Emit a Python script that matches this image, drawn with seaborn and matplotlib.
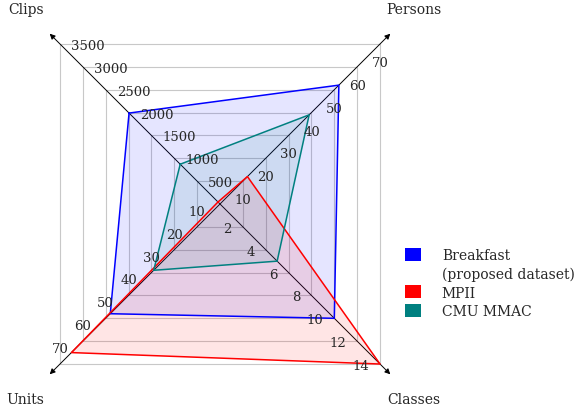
import matplotlib
matplotlib.use("Agg")
import matplotlib.pyplot as plt
from matplotlib.patches import Patch
import seaborn as sns
import pandas as pd

# Radar axes (each with its own scale)
axis_names = ["Clips", "Persons", "Classes", "Units"]
axis_steps = [500, 10, 2, 10]
clips_ticks = [500, 1000, 1500, 2000, 2500, 3000, 3500]
persons_ticks = [10, 20, 30, 40, 50, 60, 70]
classes_ticks = [2, 4, 6, 8, 10, 12, 14]
units_ticks = [10, 20, 30, 40, 50, 60, 70]

# Dataset values
datasets = ["Breakfast", "MPII", "CMU MMAC"]
clips = [1989, 44, 870]
persons = [52, 12, 39]
classes = [10, 14, 5]
units = [48, 65, 29]

colors = ["#0000ff", "#ff0000", "#008080"]

sns.set_theme(style="white")
plt.rcParams["font.family"] = ["DejaVu Serif"]
plt.rcParams["font.size"] = 10

# direction of each axis (diagonals)
directions = {"Clips": (-1, 1), "Persons": (1, 1), "Classes": (1, -1), "Units": (-1, -1)}
n_levels = 7

fig = plt.figure(figsize=(5.76, 4.10), dpi=100)
ax = fig.add_axes([0, 0, 1, 1])
px = 22.86  # pixels per level
ax.set_xlim(-220 / px, (576 - 220) / px)
ax.set_ylim(-205 / px, 205 / px)
ax.set_aspect("equal")
ax.axis("off")

# square grid
for lvl in range(1, n_levels + 1):
    ax.plot([-lvl, lvl, lvl, -lvl, -lvl], [lvl, lvl, -lvl, -lvl, lvl],
            color="#c8c8c8", lw=0.8, zorder=1)

# axes arrows, titles and tick labels
tick_lists = [clips_ticks, persons_ticks, classes_ticks, units_ticks]
for name, step, ticks in zip(axis_names, axis_steps, tick_lists):
    dx, dy = directions[name]
    ax.annotate("", xy=(dx * 7.45, dy * 7.45), xytext=(0, 0),
                arrowprops=dict(arrowstyle="-|>", color="black", lw=0.7,
                                mutation_scale=8, shrinkA=0, shrinkB=0),
                zorder=2)
    ax.text(dx * 8.5, dy * 8.55, name, ha="center", va="center", fontsize=10)
    for t in ticks:
        lvl = t / step
        if name == "Clips":
            off, ha = (8, 0), "left"
        elif name == "Persons":
            off, ha = (0, -12.2), "center"
        elif name == "Classes":
            off, ha = (-8, 0), "right"
        else:
            off, ha = (0, 12.2), "center"
        ax.annotate(str(t), xy=(dx * lvl, dy * lvl), xytext=off,
                    textcoords="offset points", ha=ha, va="center_baseline",
                    fontsize=9.5, zorder=4)

# polygon coordinates from the values
rows = []
for i, ds in enumerate(datasets):
    vals = {"Clips": clips[i], "Persons": persons[i],
            "Classes": classes[i], "Units": units[i]}
    order = axis_names + [axis_names[0]]
    for k, name in enumerate(order):
        step = axis_steps[axis_names.index(name)]
        dx, dy = directions[name]
        rows.append({"dataset": ds, "order": k,
                     "x": dx * vals[name] / step, "y": dy * vals[name] / step})
df = pd.DataFrame(rows)

for ds, c in zip(datasets, colors):
    sub = df[df["dataset"] == ds]
    ax.fill(sub["x"], sub["y"], color=c, alpha=0.1, lw=0, zorder=2.5)

sns.lineplot(data=df, x="x", y="y", hue="dataset", palette=colors,
             hue_order=datasets, sort=False, estimator=None, lw=1.1,
             legend=False, ax=ax, zorder=3)
ax.set_xlabel("")
ax.set_ylabel("")

# legend
handles = [Patch(facecolor=colors[0], edgecolor="none"),
           Patch(facecolor="none", edgecolor="none"),
           Patch(facecolor=colors[1], edgecolor="none"),
           Patch(facecolor=colors[2], edgecolor="none")]
labels = ["Breakfast", "(proposed dataset)", "MPII", "CMU MMAC"]
fig.legend(handles, labels, loc="upper left",
           bbox_to_anchor=(405 / 576, 1 - 249 / 410), frameon=False,
           borderpad=0, borderaxespad=0, handlelength=1.15, handleheight=1.1,
           handletextpad=1.5, labelspacing=0.3, fontsize=10)

fig.savefig("out.png", dpi=100)
